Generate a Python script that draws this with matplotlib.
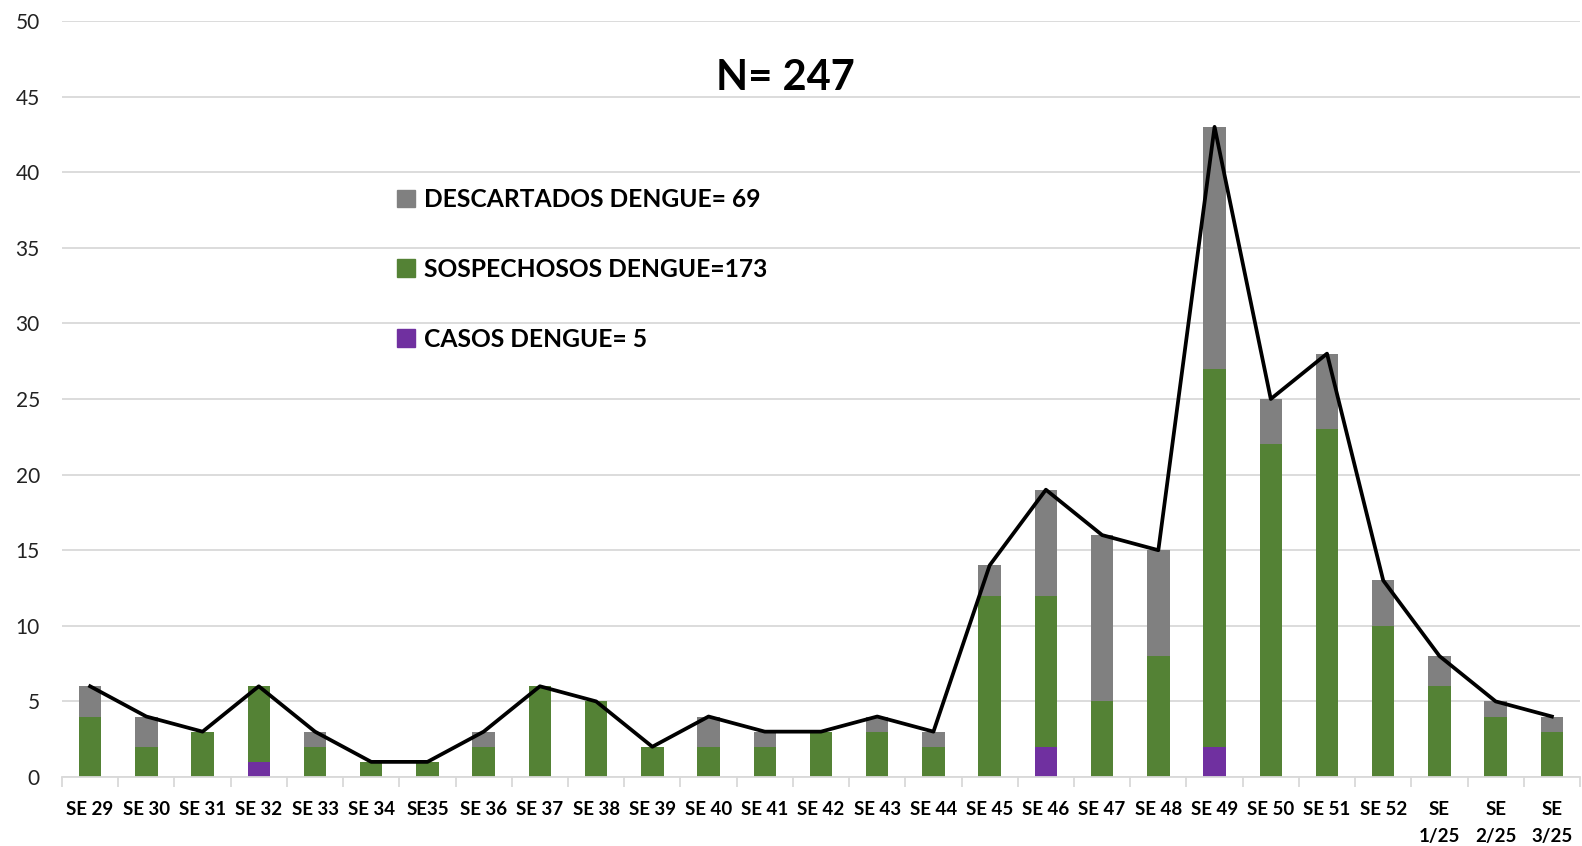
import matplotlib.pyplot as plt
import numpy as np
from matplotlib.patches import Patch

# semanas epidemiologicas
semanas = ['SE 29', 'SE 30', 'SE 31', 'SE 32', 'SE 33', 'SE 34', 'SE35', 'SE 36',
           'SE 37', 'SE 38', 'SE 39', 'SE 40', 'SE 41', 'SE 42', 'SE 43', 'SE 44',
           'SE 45', 'SE 46', 'SE 47', 'SE 48', 'SE 49', 'SE 50', 'SE 51', 'SE 52',
           'SE\n1/25', 'SE\n2/25', 'SE\n3/25']

casos = [0, 0, 0, 1, 0, 0, 0, 0, 0, 0, 0, 0, 0, 0, 0, 0,
         0, 2, 0, 0, 2, 0, 0, 0, 0, 0, 0]
sospechosos = [4, 2, 3, 5, 2, 1, 1, 2, 6, 5, 2, 2, 2, 3, 3, 2,
               12, 10, 5, 8, 25, 22, 23, 10, 6, 4, 3]
descartados = [2, 2, 0, 0, 1, 0, 0, 1, 0, 0, 0, 2, 1, 0, 1, 1,
               2, 7, 11, 7, 16, 3, 5, 3, 2, 1, 1]

plt.rcParams['font.family'] = ['Lato', 'DejaVu Sans']

casos = np.array(casos)
sospechosos = np.array(sospechosos)
descartados = np.array(descartados)
total = casos + sospechosos + descartados
x = np.arange(len(semanas))

fig = plt.figure(figsize=(15.82, 8.46), dpi=100)
ax = fig.add_axes([62/1582, 69/846, 1518/1582, 756/846])

w = 0.4
ax.bar(x, casos, w, color='#7030a0', zorder=2)
ax.bar(x, sospechosos, w, bottom=casos, color='#548235', zorder=2)
ax.bar(x, descartados, w, bottom=casos + sospechosos, color='#808080', zorder=2)
ax.plot(x, total, color='black', lw=2.7, zorder=3)

ax.set_xlim(-0.5, len(semanas) - 0.5)
ax.set_ylim(0, 50)
ax.set_yticks(range(0, 51, 5))
ax.yaxis.grid(True, color='#d9d9d9', lw=1.3, zorder=0)
ax.set_axisbelow(True)
for s in ['left', 'right', 'top']:
    ax.spines[s].set_visible(False)
ax.spines['bottom'].set_color('#d9d9d9')
ax.spines['bottom'].set_linewidth(1.3)

ax.set_xticks(x)
ax.set_xticklabels(semanas, fontweight='bold', fontsize=13.5, linespacing=1.75, va='top')
ax.tick_params(axis='x', length=0, pad=17)
ax.set_xticks(np.arange(-0.5, len(semanas)), minor=True)
ax.tick_params(axis='x', which='minor', length=7, color='#d9d9d9', width=1.3)
ax.tick_params(axis='y', length=0, labelsize=15, pad=16)
for t in ax.get_yticklabels():
    t.set_color('#222222')

fig.text(785/1582, 1 - 78/846, 'N= 247', ha='center', va='center',
         fontsize=30, fontweight='bold')

handles = [Patch(color='#808080'), Patch(color='#548235'), Patch(color='#7030a0')]
labels = ['DESCARTADOS DENGUE= 69', 'SOSPECHOSOS DENGUE=173', 'CASOS DENGUE= 5']
leg = fig.legend(handles, labels, loc='upper left', bbox_to_anchor=(375/1582, 1 - 166/846),
                 frameon=False, handlelength=0.72, handleheight=0.72, handletextpad=0.38,
                 labelspacing=1.9, prop={'weight': 'bold', 'size': 17.7})

fig.savefig('out.png', dpi=100)
